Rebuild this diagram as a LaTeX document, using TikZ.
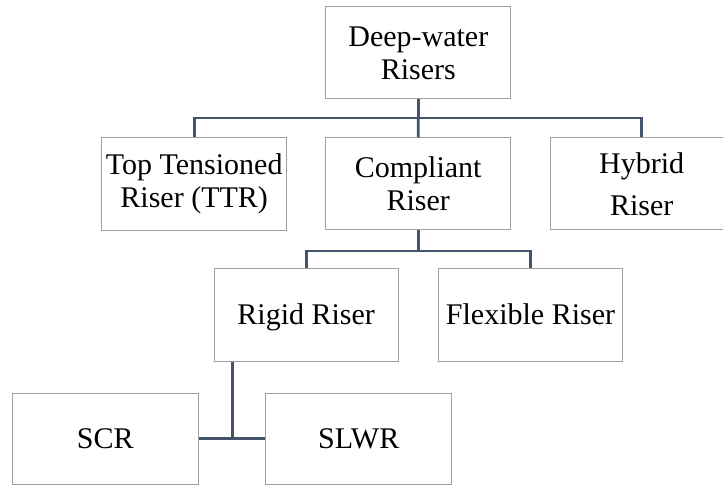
\documentclass[tikz,border=0pt]{standalone}
\usepackage{fontspec}
\setmainfont{Liberation Serif}
\definecolor{linkcol}{HTML}{44546A}
\definecolor{boxcol}{HTML}{A0A0A0}
\tikzset{
  box/.style={draw=boxcol, line width=1pt, rectangle, inner sep=0pt,
    align=center, font=\fontsize{30}{33}\selectfont, text=black},
  oneline/.style={text height=20pt, text depth=0pt},
  link/.style={draw=linkcol, line width=2.8pt, line join=miter}
}
\begin{document}
\begin{tikzpicture}[x=1pt, y=-1pt]
  \useasboundingbox (0,0) rectangle (723,486);

  % boxes
  \node[box, minimum width=185pt, minimum height=92pt] (deep) at (418.3,53) {Deep-water\\Risers};
  \node[box, minimum width=185pt, minimum height=93pt] (ttr) at (194.2,184.2) {Top Tensioned\\Riser (TTR)};
  \node[box, minimum width=185pt, minimum height=92pt] (comp) at (418.2,184) {Compliant\\Riser};
  \node[box, minimum width=183pt, minimum height=92pt] (hyb) at (641.7,184) {Hybrid\\[9pt]Riser};
  \node[box, oneline, minimum width=184pt, minimum height=92pt] (rigid) at (306.2,315) {Rigid Riser};
  \node[box, oneline, minimum width=184pt, minimum height=92pt] (flex) at (530.5,315) {Flexible Riser};
  \node[box, oneline, minimum width=186pt, minimum height=91pt] (scr) at (105.3,438.7) {SCR};
  \node[box, oneline, minimum width=186pt, minimum height=91pt] (slwr) at (358.7,438.7) {SLWR};

  % junction points
  \coordinate (j1) at (418.3,118);
  \coordinate (j2) at (418.2,251);
  \coordinate (j3) at (232.7,438.7);

  % connectors
  \draw[link] (deep.south) -- (j1);
  \draw[link] (ttr.north) |- (j1) -| (hyb.north);
  \draw[link] (j1) -- (comp.north);
  \draw[link] (comp.south) -- (j2);
  \draw[link] (rigid.north) |- (j2) -| (flex.north);
  \draw[link] (rigid.south -| j3) -- (j3);
  \draw[link] (scr.east) -- (slwr.west);
\end{tikzpicture}
\end{document}
